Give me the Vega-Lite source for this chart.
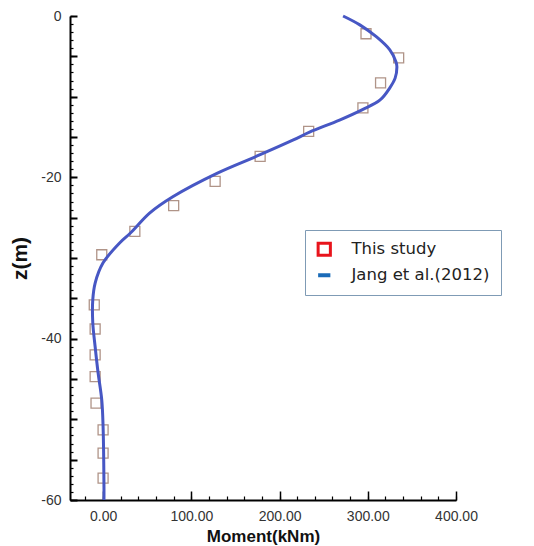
{
  "$schema": "https://vega.github.io/schema/vega-lite/v6.json",
  "width": 386,
  "height": 484,
  "autosize": {"type": "none"},
  "padding": {"left": 70, "top": 16, "right": 78, "bottom": 46},
  "background": "white",
  "config": {"view": {"stroke": null}, "font": "Liberation Sans"},
  "datasets": {
    "study": [
      {"moment": 298, "z": -2.2, "series": "This study"},
      {"moment": 335, "z": -5.2, "series": "This study"},
      {"moment": 314.5, "z": -8.3, "series": "This study"},
      {"moment": 294.5, "z": -11.4, "series": "This study"},
      {"moment": 233, "z": -14.3, "series": "This study"},
      {"moment": 178, "z": -17.4, "series": "This study"},
      {"moment": 127, "z": -20.5, "series": "This study"},
      {"moment": 80, "z": -23.5, "series": "This study"},
      {"moment": 36, "z": -26.7, "series": "This study"},
      {"moment": -1.5, "z": -29.6, "series": "This study"},
      {"moment": -10, "z": -35.8, "series": "This study"},
      {"moment": -9, "z": -38.8, "series": "This study"},
      {"moment": -9, "z": -42, "series": "This study"},
      {"moment": -9, "z": -44.7, "series": "This study"},
      {"moment": -8, "z": -48, "series": "This study"},
      {"moment": 0, "z": -51.3, "series": "This study"},
      {"moment": 0, "z": -54.2, "series": "This study"},
      {"moment": 0, "z": -57.3, "series": "This study"}
    ],
    "jang": [
      {"i": 0, "moment": 272, "z": 0, "series": "Jang et al.(2012)"},
      {"i": 1, "moment": 291, "z": -1.1, "series": "Jang et al.(2012)"},
      {"i": 2, "moment": 310, "z": -2.6, "series": "Jang et al.(2012)"},
      {"i": 3, "moment": 325, "z": -4.2, "series": "Jang et al.(2012)"},
      {"i": 4, "moment": 332, "z": -5.7, "series": "Jang et al.(2012)"},
      {"i": 5, "moment": 333, "z": -6.3, "series": "Jang et al.(2012)"},
      {"i": 6, "moment": 331, "z": -7.7, "series": "Jang et al.(2012)"},
      {"i": 7, "moment": 325, "z": -8.9, "series": "Jang et al.(2012)"},
      {"i": 8, "moment": 314, "z": -10.4, "series": "Jang et al.(2012)"},
      {"i": 9, "moment": 294, "z": -11.6, "series": "Jang et al.(2012)"},
      {"i": 10, "moment": 268, "z": -12.9, "series": "Jang et al.(2012)"},
      {"i": 11, "moment": 234, "z": -14.4, "series": "Jang et al.(2012)"},
      {"i": 12, "moment": 215, "z": -15.4, "series": "Jang et al.(2012)"},
      {"i": 13, "moment": 178, "z": -17.2, "series": "Jang et al.(2012)"},
      {"i": 14, "moment": 129, "z": -19.5, "series": "Jang et al.(2012)"},
      {"i": 15, "moment": 79, "z": -22.4, "series": "Jang et al.(2012)"},
      {"i": 16, "moment": 53, "z": -24.4, "series": "Jang et al.(2012)"},
      {"i": 17, "moment": 31, "z": -26.9, "series": "Jang et al.(2012)"},
      {"i": 18, "moment": 19, "z": -28.1, "series": "Jang et al.(2012)"},
      {"i": 19, "moment": 0, "z": -30.6, "series": "Jang et al.(2012)"},
      {"i": 20, "moment": -9, "z": -33.1, "series": "Jang et al.(2012)"},
      {"i": 21, "moment": -11.7, "z": -35.2, "series": "Jang et al.(2012)"},
      {"i": 22, "moment": -11.7, "z": -38, "series": "Jang et al.(2012)"},
      {"i": 23, "moment": -9, "z": -41, "series": "Jang et al.(2012)"},
      {"i": 24, "moment": -5.7, "z": -44.2, "series": "Jang et al.(2012)"},
      {"i": 25, "moment": -1.5, "z": -47.6, "series": "Jang et al.(2012)"},
      {"i": 26, "moment": 0, "z": -50.9, "series": "Jang et al.(2012)"},
      {"i": 27, "moment": 1, "z": -58.4, "series": "Jang et al.(2012)"},
      {"i": 28, "moment": 1, "z": -60, "series": "Jang et al.(2012)"}
    ]
  },
  "resolve": {"axis": {"x": "independent", "y": "independent"}},
  "layer": [
    {
      "data": {"name": "study"},
      "mark": {"type": "point", "shape": "square", "filled": false, "size": 100, "strokeWidth": 1.3, "opacity": 1},
      "encoding": {
        "x": {
          "field": "moment",
          "type": "quantitative",
          "scale": {"domain": [-37.5, 400], "nice": false, "zero": false},
          "axis": {
            "orient": "bottom",
            "values": [-20, 0, 20, 40, 60, 80, 100, 120, 140, 160, 180, 200, 220, 240, 260, 280, 300, 320, 340, 360, 380, 400],
            "title": null,
            "labels": false,
            "tickColor": "black",
            "tickWidth": 1.2,
            "tickSize": -4,
            "domainColor": "black",
            "domainWidth": 2,
            "grid": false
          }
        },
        "y": {
          "field": "z",
          "type": "quantitative",
          "scale": {"domain": [-60, 0], "nice": false, "zero": false},
          "axis": {
            "orient": "left",
            "values": [-60, -59, -58, -57, -56, -55, -54, -53, -52, -51, -50, -49, -48, -47, -46, -45, -44, -43, -42, -41, -40, -39, -38, -37, -36, -35, -34, -33, -32, -31, -30, -29, -28, -27, -26, -25, -24, -23, -22, -21, -20, -19, -18, -17, -16, -15, -14, -13, -12, -11, -10, -9, -8, -7, -6, -5, -4, -3, -2, -1, 0],
            "title": null,
            "labels": false,
            "tickColor": "black",
            "tickWidth": 1.2,
            "tickSize": -3,
            "domainColor": "black",
            "domainWidth": 2,
            "grid": false
          }
        },
        "color": {
          "condition": {"test": "datum.moment != null", "value": "#b09488"},
          "field": "series",
          "type": "nominal",
          "scale": {"domain": ["This study", "Jang et al.(2012)"], "range": ["#e8141c", "#1a6bb8"]},
          "legend": {
            "orient": "none",
            "legendX": 235,
            "legendY": 214,
            "title": null,
            "padding": 11,
            "strokeColor": "#7f9bb5",
            "fillColor": "white",
            "labelFont": "DejaVu Sans",
            "labelFontSize": 16.5,
            "labelColor": "#222",
            "labelOffset": 19,
            "labelExpr": "datum.label + '          '",
            "rowPadding": 5,
            "symbolSize": 150,
            "encode": {
              "symbols": {
                "update": {
                  "shape": {"signal": "datum.value === 'This study' ? 'square' : 'stroke'"},
                  "stroke": {"signal": "datum.value === 'This study' ? '#e8141c' : '#1a6bb8'"},
                  "strokeWidth": {"signal": "datum.value === 'This study' ? 3 : 4"},
                  "fill": {"value": "white"},
                  "fillOpacity": {"value": 1},
                  "opacity": {"value": 1}
                }
              }
            }
          }
        }
      }
    },
    {
      "data": {"name": "jang"},
      "mark": {"type": "line", "interpolate": "catmull-rom", "strokeWidth": 3},
      "encoding": {
        "x": {
          "field": "moment",
          "type": "quantitative",
          "axis": {
            "orient": "bottom",
            "values": [0, 100, 200, 300, 400],
            "title": "Moment(kNm)",
            "titleFont": "Liberation Sans",
            "titleFontSize": 17,
            "titleFontWeight": "bold",
            "titleColor": "#111",
            "titlePadding": 5,
            "format": ".2f",
            "labelFont": "Liberation Sans",
            "labelFontSize": 14,
            "labelColor": "#333",
            "labelPadding": 18,
            "labelOverlap": false,
            "labelFlush": false,
            "tickColor": "black",
            "tickWidth": 1.5,
            "tickSize": -9,
            "domain": false,
            "grid": false
          }
        },
        "y": {
          "field": "z",
          "type": "quantitative",
          "axis": {
            "orient": "left",
            "values": [-60, -55, -50, -45, -40, -35, -30, -25, -20, -15, -10, -5, 0],
            "title": "z(m)",
            "titleFont": "Liberation Sans",
            "titleFontSize": 21,
            "titleFontWeight": "bold",
            "titleColor": "#111",
            "titlePadding": 10,
            "labelExpr": "datum.value % 20 === 0 ? '' + datum.value : ''",
            "labelFont": "Liberation Sans",
            "labelFontSize": 14,
            "labelColor": "#333",
            "labelPadding": 16,
            "labelOverlap": false,
            "labelFlush": false,
            "tickColor": "black",
            "tickWidth": 2,
            "tickSize": -7,
            "domain": false,
            "grid": false
          }
        },
        "order": {"field": "i", "type": "quantitative"},
        "color": {
          "condition": {"test": "datum.moment != null", "value": "#4757c4"},
          "field": "series",
          "type": "nominal",
          "legend": {
            "orient": "none",
            "legendX": 235,
            "legendY": 214,
            "title": null,
            "padding": 11,
            "strokeColor": "#7f9bb5",
            "fillColor": "white",
            "labelFont": "DejaVu Sans",
            "labelFontSize": 16.5,
            "labelColor": "#222",
            "labelOffset": 19,
            "labelExpr": "datum.label + '          '",
            "rowPadding": 5,
            "symbolSize": 150,
            "encode": {
              "symbols": {
                "update": {
                  "shape": {"signal": "datum.value === 'This study' ? 'square' : 'stroke'"},
                  "stroke": {"signal": "datum.value === 'This study' ? '#e8141c' : '#1a6bb8'"},
                  "strokeWidth": {"signal": "datum.value === 'This study' ? 3 : 4"},
                  "fill": {"value": "white"},
                  "fillOpacity": {"value": 1},
                  "opacity": {"value": 1}
                }
              }
            }
          }
        }
      }
    }
  ]
}
